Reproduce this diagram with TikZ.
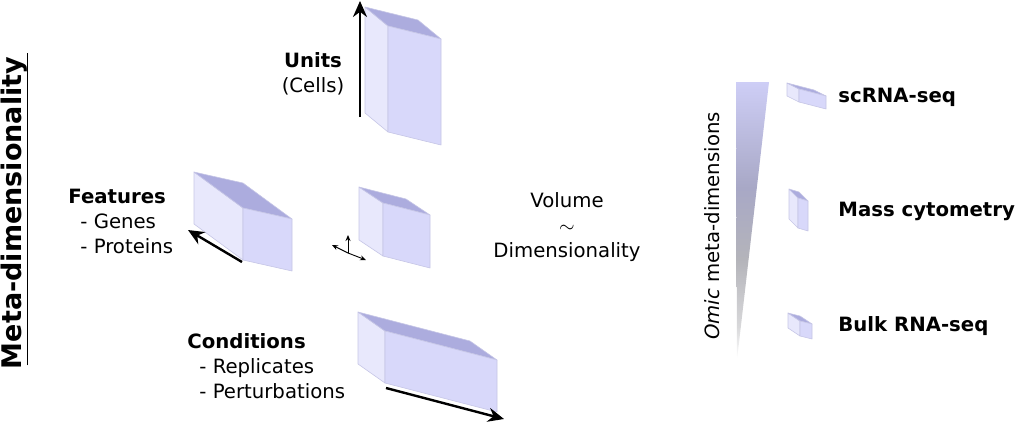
\documentclass[tikz,border=0pt]{standalone}
\usepackage{fontspec}
\setmainfont{DejaVu Sans}
\usetikzlibrary{arrows.meta}

\definecolor{sideface}{RGB}{232,232,252}
\definecolor{frontface}{RGB}{216,216,250}
\definecolor{topface}{RGB}{172,172,222}
\definecolor{faceedge}{RGB}{198,198,230}
\definecolor{gradtop}{RGB}{206,206,246}
\definecolor{gradmid}{RGB}{168,168,198}
\definecolor{gradlow}{RGB}{180,180,186}
\definecolor{gradpale}{RGB}{216,216,218}

% wedge fading from lavender (top) to white (bottom); the path fills 25bp..75bp
\pgfdeclareverticalshading{omicfade}{100bp}{color(0bp)=(white); color(25bp)=(white);
  color(31bp)=(gradpale); color(43bp)=(gradlow); color(56bp)=(gradmid);
  color(75bp)=(gradtop); color(100bp)=(gradtop)}

% box drawn from its back top corner: x0 y0, depth dx dy, width wx wy, height h
\newcommand{\omicbox}[7]{%
  \begin{scope}[shift={(#1,#2)}]
    \filldraw[boxface, fill=sideface] (0,0) -- (#3,#4) -- (#3,#4+#7) -- (0,#7) -- cycle;
    \filldraw[boxface, fill=topface] (0,0) -- (#5,#6) -- (#3+#5,#4+#6) -- (#3,#4) -- cycle;
    \filldraw[boxface, fill=frontface] (#3,#4) -- (#3+#5,#4+#6) -- (#3+#5,#4+#6+#7) -- (#3,#4+#7) -- cycle;
  \end{scope}}

\tikzset{
  boxface/.style={draw=faceedge, line width=0.3pt, line join=round},
  axisarrow/.style={line width=1.2pt, -{Stealth[length=8pt,width=7pt]}},
  tinyaxis/.style={line width=0.45pt, -{Stealth[length=3pt,width=2.5pt]}},
  label/.style={inner sep=0pt, font=\fontsize{9.85}{12.5}\selectfont},
}

\begin{document}
\begin{tikzpicture}[x=0.5pt, y=-0.5pt]
  \useasboundingbox (0,0) rectangle (1016,423);

  % Title on the left
  \node[label, rotate=90, font=\fontsize{13.5}{16}\selectfont\bfseries] (meta) at (14,213) {Meta-dimensionality};
  \draw[line width=0.9pt] ([yshift=2pt]meta.south west) -- ([yshift=2pt]meta.south east);

  % The four boxes
  \omicbox{365}{7}{23}{19}{53}{13}{106}
  \omicbox{194}{172}{49}{36}{49}{11}{52}
  \omicbox{359}{187}{24}{16}{47}{12}{53}
  \omicbox{358}{312}{27}{19}{112}{29}{52}

  % Arrows along the boxes
  \coordinate (unitsfrom) at (360,117);
  \coordinate (unitsto) at (360,1);
  \coordinate (featfrom) at (242,262);
  \coordinate (featto) at (188,230);
  \coordinate (condfrom) at (386,388);
  \coordinate (condto) at (504,419);
  \draw[axisarrow] (unitsfrom) -- (unitsto);
  \draw[axisarrow] (featfrom) -- (featto);
  \draw[axisarrow] (condfrom) -- (condto);

  % Little axes next to the middle box
  \coordinate (origin) at (348,253);
  \coordinate (upax) at (348,235);
  \coordinate (leftax) at (332,245);
  \coordinate (rightax) at (366,260);
  \draw[tinyaxis] (origin) -- (upax);
  \draw[tinyaxis] (origin) -- (leftax);
  \draw[tinyaxis] (origin) -- (rightax);

  % Labels of the dimensions
  \node[label, align=center] (units) at (313,74) {\textbf{Units}\\(Cells)};
  \node[label, align=left, anchor=west] (features) at (68,221)
    {\textbf{Features}\\\hspace*{6pt}- Genes\\\hspace*{6pt}- Proteins};
  \node[label, align=left, anchor=west] (conditions) at (187,366)
    {\textbf{Conditions}\\\hspace*{6pt}- Replicates\\\hspace*{6pt}- Perturbations};
  \node[label, align=center] (volume) at (567,227) {Volume\\$\sim$\\Dimensionality};

  % Gradient wedge
  \shade[shading=omicfade] (736,82) -- (769,82) -- (737,360) -- cycle;
  \node[label, rotate=90] (omic) at (712,226) {\textit{Omic} meta-dimensions};

  % Small boxes for the technologies
  \omicbox{787}{83}{12}{6}{27}{7}{13}
  \omicbox{789}{189}{9}{9}{10}{3}{30}
  \omicbox{788}{313}{12}{8}{12}{3}{15}
  \node[label, anchor=west, font=\fontsize{9.85}{12.5}\selectfont\bfseries] (scrna) at (838,97) {scRNA-seq};
  \node[label, anchor=west, font=\fontsize{9.85}{12.5}\selectfont\bfseries] (mass) at (838,211) {Mass cytometry};
  \node[label, anchor=west, font=\fontsize{9.85}{12.5}\selectfont\bfseries] (bulk) at (838,326) {Bulk RNA-seq};
\end{tikzpicture}
\end{document}
